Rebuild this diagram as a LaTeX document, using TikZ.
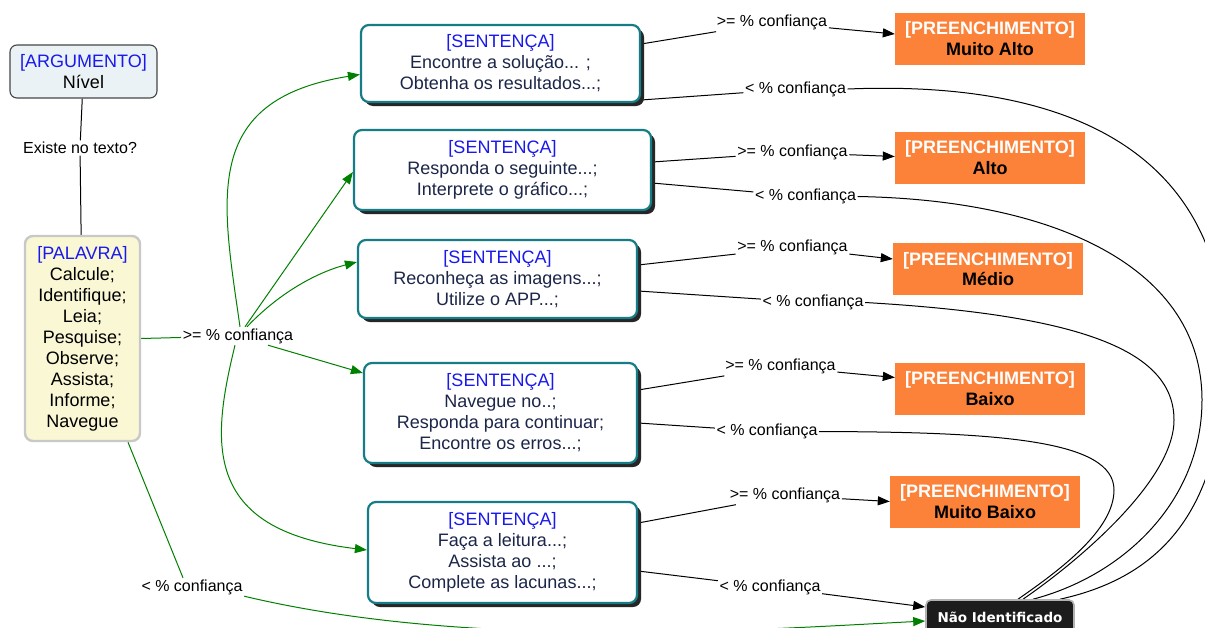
\documentclass[tikz,border=0pt]{standalone}
\usepackage{fontspec}
\setmainfont{Liberation Sans}
\newfontfamily\boldsans{DejaVu Sans}
\usetikzlibrary{arrows.meta,shadows,backgrounds}

\definecolor{sentborder}{RGB}{22,125,135}
\definecolor{senttext}{RGB}{28,38,72}
\definecolor{titleblue}{RGB}{25,25,235}
\definecolor{fillorange}{RGB}{252,130,58}
\definecolor{palfill}{RGB}{250,247,212}
\definecolor{palborder}{RGB}{200,200,200}
\definecolor{argfill}{RGB}{234,242,245}
\definecolor{argborder}{RGB}{70,70,70}
\definecolor{linkgreen}{RGB}{0,128,0}
\definecolor{nifill}{RGB}{28,28,28}

\newcommand{\ttl}[1]{\textcolor{titleblue}{#1}}

\begin{document}
\begin{tikzpicture}[x=1pt,y=-1pt,
  sentbox/.style={draw=sentborder, line width=2.2pt, rounded corners=8pt, fill=white,
    align=center, inner sep=0pt, text=senttext, font=\fontsize{18}{21}\selectfont,
    general shadow={fill=black!85, shadow xshift=4pt, shadow yshift=-4pt}},
  prebox/.style={fill=fillorange, align=center, inner sep=0pt, text=white,
    font=\bfseries\fontsize{18}{20.5}\selectfont, minimum width=190pt, minimum height=52pt},
  argbox/.style={draw=argborder, line width=1.1pt, rounded corners=7pt, fill=argfill,
    align=center, inner sep=0pt, font=\fontsize{18}{21}\selectfont},
  palbox/.style={draw=palborder, line width=2.4pt, rounded corners=8pt, fill=palfill,
    align=center, inner sep=0pt, font=\fontsize{18}{21}\selectfont},
  nibox/.style={draw=black!30, line width=1.6pt, rounded corners=5pt, fill=nifill,
    text=white, inner sep=0pt, font=\boldsans\bfseries\fontsize{13.5}{16}\selectfont},
  lbl/.style={font=\fontsize{16}{19}\selectfont, inner sep=1.5pt},
  blkline/.style={draw=black, line width=1pt},
  blkarrow/.style={blkline, -{Triangle[length=12pt,width=9pt]}},
  grnline/.style={draw=linkgreen, line width=1pt},
  grnarrow/.style={grnline, -{Triangle[length=12pt,width=9pt]}}
]
\useasboundingbox (0,0) rectangle (1205,627);

% concept boxes on the left
\node[argbox, minimum width=147pt, minimum height=53pt] (arg) at (83.5,71.5)
  {\ttl{[ARGUMENTO]}\\Nível};
\node[palbox, minimum width=115pt, minimum height=205pt] (pal) at (82.5,338.5)
  {\ttl{[PALAVRA]}\\Calcule;\\Identifique;\\Leia;\\Pesquise;\\Observe;\\Assista;\\Informe;\\Navegue};

% sentence boxes
\node[sentbox, minimum width=279pt, minimum height=77pt] (s1) at (500.5,63.5)
  {\ttl{[SENTENÇA]}\\Encontre a solução... ;\\Obtenha os resultados...;};
\node[sentbox, minimum width=297pt, minimum height=80pt] (s2) at (502.5,170)
  {\ttl{[SENTENÇA]}\\Responda o seguinte...;\\Interprete o gráfico...;};
\node[sentbox, minimum width=279pt, minimum height=78pt] (s3) at (497.5,279)
  {\ttl{[SENTENÇA]}\\Reconheça as imagens...;\\Utilize o APP...;};
\node[sentbox, minimum width=273pt, minimum height=100pt] (s4) at (500.5,413)
  {\ttl{[SENTENÇA]}\\Navegue no..;\\Responda para continuar;\\Encontre os erros...;};
\node[sentbox, minimum width=269pt, minimum height=101pt] (s5) at (502.5,552.5)
  {\ttl{[SENTENÇA]}\\Faça a leitura...;\\Assista ao ...;\\Complete as lacunas...;};

% fill levels
\node[prebox] (ma) at (990,38.5)   {[PREENCHIMENTO]\\\textcolor{black}{Muito Alto}};
\node[prebox] (al) at (990,157.5)  {[PREENCHIMENTO]\\\textcolor{black}{Alto}};
\node[prebox] (me) at (988,269)    {[PREENCHIMENTO]\\\textcolor{black}{Médio}};
\node[prebox] (ba) at (990,388.5)  {[PREENCHIMENTO]\\\textcolor{black}{Baixo}};
\node[prebox] (mb) at (985,501.5)  {[PREENCHIMENTO]\\\textcolor{black}{Muito Baixo}};

\node[nibox, minimum width=148pt, minimum height=34pt] (ni) at (1000,617) {Não Identificado};

% link labels
\node[lbl] (ex) at (80,148) {Existe no texto?};
\node[lbl] (g1) at (238,336) {>= \% confiança};
\node[lbl] (g2) at (192,587) {< \% confiança};

\node[lbl] (h1) at (772,22.5)  {>= \% confiança};
\node[lbl] (l1) at (795.5,89)  {< \% confiança};
\node[lbl] (h2) at (792.5,152.5) {>= \% confiança};
\node[lbl] (l2) at (805.5,196.5) {< \% confiança};
\node[lbl] (h3) at (792.5,247.7) {>= \% confiança};
\node[lbl] (l3) at (813,302.5)   {< \% confiança};
\node[lbl] (h4) at (780.5,366.7) {>= \% confiança};
\node[lbl] (l4) at (767,431.5)   {< \% confiança};
\node[lbl] (h5) at (785,495.5)   {>= \% confiança};
\node[lbl] (l5) at (770,587)     {< \% confiança};

\begin{scope}[on background layer]
  \fill[white] (0,0) rectangle (1205,627);
  \clip (0,0) rectangle (1205,627);

  % argument to word
  \draw[blkline] (arg) -- (ex) -- (pal);

  % word to sentences
  \draw[grnline] (pal.east) -- (g1);
  \draw[grnarrow] ([xshift=2pt]g1.north) .. controls (222,200) and (200,100) .. ([yshift=-11pt]s1.west);
  \draw[grnarrow] ([xshift=7pt]g1.north) -- ([yshift=-2pt]s2.west);
  \draw[grnarrow] ([xshift=9pt]g1.north) .. controls (280,292) and (318,272) .. ([yshift=17pt]s3.west);
  \draw[grnarrow] ([xshift=30pt]g1.south) -- ([yshift=40pt]s4.west);
  \draw[grnarrow] ([xshift=-3pt]g1.south) .. controls (212,440) and (200,530) .. ([yshift=2.5pt]s5.west);

  % word not found
  \draw[grnline] ([xshift=45.5pt]pal.south) -- ([xshift=-9pt]g2.north);
  \draw[grnarrow] (g2.south east) .. controls (470,650) and (750,630) .. ([yshift=-4pt]ni.west);

  % sentences to fill levels
  \draw[blkline] ([yshift=19.5pt]s1.east) -- (h1);
  \draw[blkarrow] (h1) -- ([yshift=4.5pt]ma.west);
  \draw[blkline] ([yshift=-36.5pt]s1.east) -- (l1);
  \draw[blkline] ([yshift=8pt]s2.east) -- (h2);
  \draw[blkarrow] (h2) -- ([yshift=1pt]al.west);
  \draw[blkline] ([yshift=-13pt]s2.east) -- (l2);
  \draw[blkline] ([yshift=14pt]s3.east) -- (h3);
  \draw[blkarrow] (h3) -- ([yshift=10pt]me.west);
  \draw[blkline] ([yshift=-12pt]s3.east) -- (l3);
  \draw[blkline] ([yshift=23pt]s4.east) -- (h4);
  \draw[blkarrow] (h4) -- ([yshift=11pt]ba.west);
  \draw[blkline] ([yshift=-10pt]s4.east) -- (l4);
  \draw[blkline] ([yshift=29.5pt]s5.east) -- (h5);
  \draw[blkarrow] (h5) -- (mb.west);
  \draw[blkline] ([yshift=-18.5pt]s5.east) -- (l5);
  \draw[blkarrow] (l5) -- ([yshift=10pt]ni.west);

  % low confidence paths into "Não Identificado"
  \draw[blkline] (l1.east) .. controls (1120,78) and (1225,190) .. (1225,350)
    .. controls (1225,500) and (1170,575) .. ([xshift=60pt]ni.north);
  \draw[blkline] (l2.east) .. controls (1060,200) and (1202,270) .. (1202,400)
    .. controls (1202,500) and (1125,575) .. ([xshift=33pt]ni.north);
  \draw[blkline] (l3.east) .. controls (1080,315) and (1174,350) .. (1174,420)
    .. controls (1174,480) and (1080,560) .. ([xshift=23pt]ni.north);
  \draw[blkline] (l4.east) .. controls (1000,432) and (1114,440) .. (1114,490)
    .. controls (1114,530) and (1060,570) .. ([xshift=18pt]ni.north);
\end{scope}
\end{tikzpicture}
\end{document}
